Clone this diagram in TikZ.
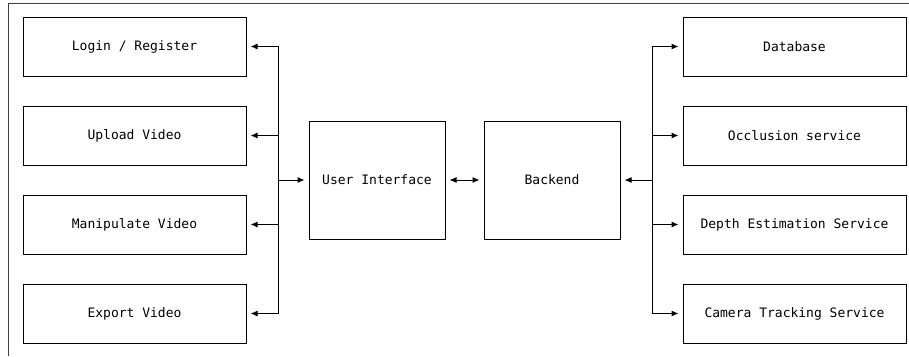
\documentclass[tikz,border=0pt]{standalone}
\usepackage{fontspec}
\setmonofont{DejaVu Sans Mono}
\usetikzlibrary{arrows.meta}

\begin{document}
\begin{tikzpicture}[x=1pt, y=-1pt, line width=1pt, font=\ttfamily\fontsize{13}{15}\selectfont,
  main/.style = {draw, rectangle, minimum width=223pt, minimum height=59pt, inner sep=0pt},
  mid/.style = {draw, rectangle, minimum width=136pt, minimum height=118pt, inner sep=0pt},
  arr/.style = {-{Latex[length=7pt,width=6pt]}, shorten >=4pt}]
\useasboundingbox (0,0) rectangle (909,356);
\draw[black!75] (8,356) -- (8,3) -- (909,3);
\node[main] (login) at (134.5,46.5) {Login / Register};
\node[main] (upload) at (134.5,135.5) {Upload Video};
\node[main] (manip) at (134.5,224.5) {Manipulate Video};
\node[main] (export) at (134.5,313.5) {Export Video};
\node[mid] (ui) at (377,180) {User Interface};
\node[mid] (be) at (552,180) {Backend};
\node[main] (db) at (794.5,46.5) {Database};
\node[main] (occ) at (794.5,135.5) {Occlusion service};
\node[main] (depth) at (794.5,224.5) {Depth Estimation Service};
\node[main] (cam) at (794.5,313.5) {Camera Tracking Service};
\coordinate (lj) at (278,180);
\coordinate (rj) at (652,180);
\draw[arr] (lj) |- (login);
\draw[arr] (lj) |- (upload);
\draw[arr] (lj) |- (manip);
\draw[arr] (lj) |- (export);
\draw[arr] (lj) -- (ui);
\draw[{Latex[length=7pt,width=6pt]}-{Latex[length=7pt,width=6pt]}, shorten <=4pt, shorten >=4pt] (ui) -- (be);
\draw[arr] (rj) -- (be);
\draw[arr] (rj) |- (db);
\draw[arr] (rj) |- (occ);
\draw[arr] (rj) |- (depth);
\draw[arr] (rj) |- (cam);
\end{tikzpicture}
\end{document}
